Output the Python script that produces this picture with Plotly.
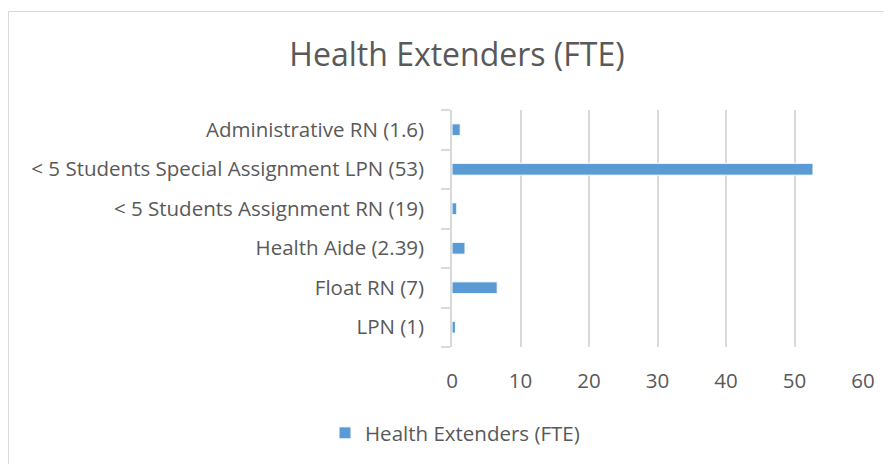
import plotly.graph_objects as go

categories = [
    "Administrative RN (1.6)",
    "< 5 Students Special Assignment LPN (53)",
    "< 5 Students Assignment RN (19)",
    "Health Aide (2.39)",
    "Float RN (7)",
    "LPN (1)",
]
values = [1.2, 52.7, 0.7, 1.9, 6.6, 0.5]
series_name = "Health Extenders (FTE)"
x_ticks = [0, 10, 20, 30, 40, 50, 60]

FONT = "Open Sans"
GRAY = "#595959"
W, H = 892, 464
# page body has an 8px margin; positions below are in figure pixels
L, R, T, B = 444, 37, 102, 125
pw, ph = W - L - R, H - T - B

def px_x(px):
    return (px - L) / pw

def px_y(py):
    return (H - B - py) / ph

fig = go.Figure()
fig.add_trace(go.Bar(
    y=categories, x=values, orientation="h", name=series_name,
    marker=dict(color="#5b9bd5", line=dict(color="white", width=1)),
    showlegend=True,
))

fig.update_layout(
    width=W, height=H,
    margin=dict(l=L, r=R, t=T, b=B),
    paper_bgcolor="white", plot_bgcolor="white",
    font=dict(family=FONT, color=GRAY, size=20),
    title=dict(text="Health Extenders (FTE)", x=449 / W, xanchor="center",
               y=1 - 47 / H, yanchor="middle",
               font=dict(family=FONT, size=32, color=GRAY)),
    bargap=0.7,
    xaxis=dict(range=[0, 60], tickvals=x_ticks, showgrid=True,
               gridcolor="#d9d9d9", gridwidth=1.5, zeroline=False,
               showline=False, ticks="", ticklabelstandoff=19,
               tickfont=dict(size=20.5, color=GRAY)),
    yaxis=dict(categoryorder="array", categoryarray=categories[::-1],
               showline=True, linecolor="#d9d9d9", linewidth=1.5,
               ticks="outside", tickson="boundaries", ticklen=9,
               tickcolor="#d9d9d9", tickwidth=1.5, ticklabelstandoff=22,
               showgrid=False, tickfont=dict(size=20.5, color=GRAY)),
    legend=dict(orientation="h", x=px_x(447), xanchor="center",
                y=px_y(425), yanchor="middle",
                font=dict(size=20.5, color=GRAY), bgcolor="rgba(0,0,0,0)"),
    shapes=[dict(type="rect", xref="paper", yref="paper",
                 x0=px_x(0.5), x1=px_x(W + 5), y0=px_y(H + 5), y1=px_y(3.5),
                 line=dict(color="#d9d9d9", width=1), layer="below")],
)

fig.write_html("out.html")
